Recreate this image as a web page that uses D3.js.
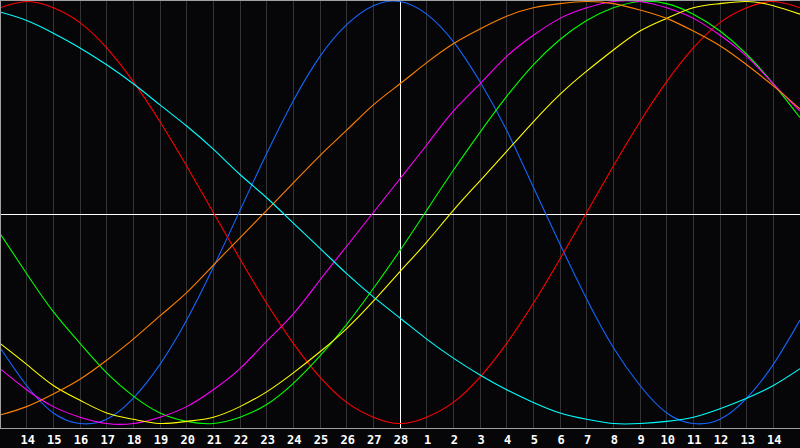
<!DOCTYPE html>
<html>
<head>
<meta charset="utf-8">
<script src="https://cdn.jsdelivr.net/npm/d3@7"></script>
<style>
  html, body { margin: 0; padding: 0; background: #060608; overflow: hidden; }
  svg { display: block; }
  .day-label { font-family: 'DejaVu Sans Mono', monospace; font-weight: bold; font-size: 12px; fill: #ffffff; }
</style>
</head>
<body>
<div class="chart"></div>
<script>
// Day labels under each grid line (last month ends on 28, today is the centre)
const dayLabels = ['14', '15', '16', '17', '18', '19', '20', '21', '22', '23', '24', '25', '26', '27', '28',
  '1', '2', '3', '4', '5', '6', '7', '8', '9', '10', '11', '12', '13', '14']

// Cycle values in percent, one value per grid step (0..30)
const physical = [-64, -82, -95, -100, -98, -88, -72, -51, -26, 1, 28, 53, 74, 89, 98, 100,
  94, 81, 62, 39, 12, -15, -41, -64, -82, -95, -100, -98, -88, -72, -51]
const emotional = [97, 100, 97, 90, 78, 62, 43, 22, 0, -22, -43, -62, -78, -90, -97, -100,
  -97, -90, -78, -62, -43, -22, 0, 22, 43, 62, 78, 90, 97, 100, 97]
const intellectual = [-10, -29, -47, -62, -76, -87, -95, -99, -100, -97, -91, -81, -68, -53, -36, -18,
  1, 20, 38, 55, 70, 82, 91, 97, 100, 99, 94, 86, 75, 61, 45]
const intuitive = [-74, -84, -92, -97, -100, -100, -97, -92, -84, -74, -61, -48, -32, -16, 0, 16,
  32, 48, 61, 74, 84, 92, 97, 100, 100, 97, 92, 84, 74, 61, 48]
const aesthetic = [-62, -72, -82, -89, -95, -98, -100, -99, -97, -92, -85, -76, -66, -55, -42, -28,
  -14, 1, 15, 29, 43, 56, 67, 77, 86, 92, 97, 99, 100, 98, 94]
const awareness = [-96, -92, -86, -79, -70, -60, -49, -38, -25, -12, 1, 14, 27, 39, 51, 61,
  71, 80, 87, 93, 97, 99, 100, 99, 96, 92, 86, 79, 70, 60, 49]
const spiritual = [95, 91, 85, 78, 70, 61, 51, 41, 30, 18, 7, -5, -17, -29, -40, -50,
  -60, -69, -77, -84, -90, -95, -98, -100, -100, -99, -97, -93, -88, -82, -74]

const cycles = [
  { name: 'physical', values: physical, color: '#1466ff' },
  { name: 'emotional', values: emotional, color: '#ff0000' },
  { name: 'intellectual', values: intellectual, color: '#00ff00' },
  { name: 'intuitive', values: intuitive, color: '#ff00ff' },
  { name: 'aesthetic', values: aesthetic, color: '#ffff00' },
  { name: 'awareness', values: awareness, color: '#ff8000' },
  { name: 'spiritual', values: spiritual, color: '#00ffff' }
]

;(function () {
  const width = 800
  const height = 448
  const plotH = 428

  const svg = d3.select('.chart').append('svg')
    .attr('width', width)
    .attr('height', height)

  svg.append('rect')
    .attr('width', width)
    .attr('height', height)
    .attr('fill', '#060608')

  const steps = d3.range(0, 31)

  const x = d3.scaleLinear().domain([0, 30]).range([0, width])
  const y = d3.scaleLinear().domain([-100, 100]).range([423.5, 1.5])

  // vertical day grid
  svg.append('g')
    .selectAll('line')
    .data(dayLabels)
    .enter().append('line')
    .attr('x1', (d, i) => x(i + 1))
    .attr('x2', (d, i) => x(i + 1))
    .attr('y1', 0)
    .attr('y2', plotH)
    .attr('stroke', '#333336')
    .attr('shape-rendering', 'crispEdges')

  // centre cross (today / zero line)
  svg.append('line')
    .attr('x1', 0).attr('x2', width)
    .attr('y1', plotH / 2).attr('y2', plotH / 2)
    .attr('stroke', '#ffffff')
    .attr('shape-rendering', 'crispEdges')
  svg.append('line')
    .attr('x1', x(15)).attr('x2', x(15))
    .attr('y1', 0).attr('y2', plotH)
    .attr('stroke', '#ffffff')
    .attr('shape-rendering', 'crispEdges')

  // curves
  const line = d3.line()
    .x((d, i) => x(steps[i]))
    .y(d => y(d))
    .curve(d3.curveNatural)

  svg.append('g')
    .selectAll('path')
    .data(cycles)
    .enter().append('path')
    .attr('class', d => 'cycle ' + d.name)
    .attr('d', d => line(d.values))
    .attr('fill', 'none')
    .attr('stroke', d => d.color)
    .attr('stroke-width', 1.1)

  // frame: top, left and bottom
  svg.append('path')
    .attr('d', 'M' + width + ',0.5H0.5V' + (plotH + 0.5) + 'H' + width)
    .attr('fill', 'none')
    .attr('stroke', '#a0a0a0')
    .attr('shape-rendering', 'crispEdges')

  // day labels
  svg.append('g')
    .selectAll('text')
    .data(dayLabels)
    .enter().append('text')
    .attr('class', 'day-label')
    .attr('x', (d, i) => x(i + 1) + 1)
    .attr('y', 443.5)
    .attr('text-anchor', 'middle')
    .text(d => d)
}())
</script>
</body>
</html>
